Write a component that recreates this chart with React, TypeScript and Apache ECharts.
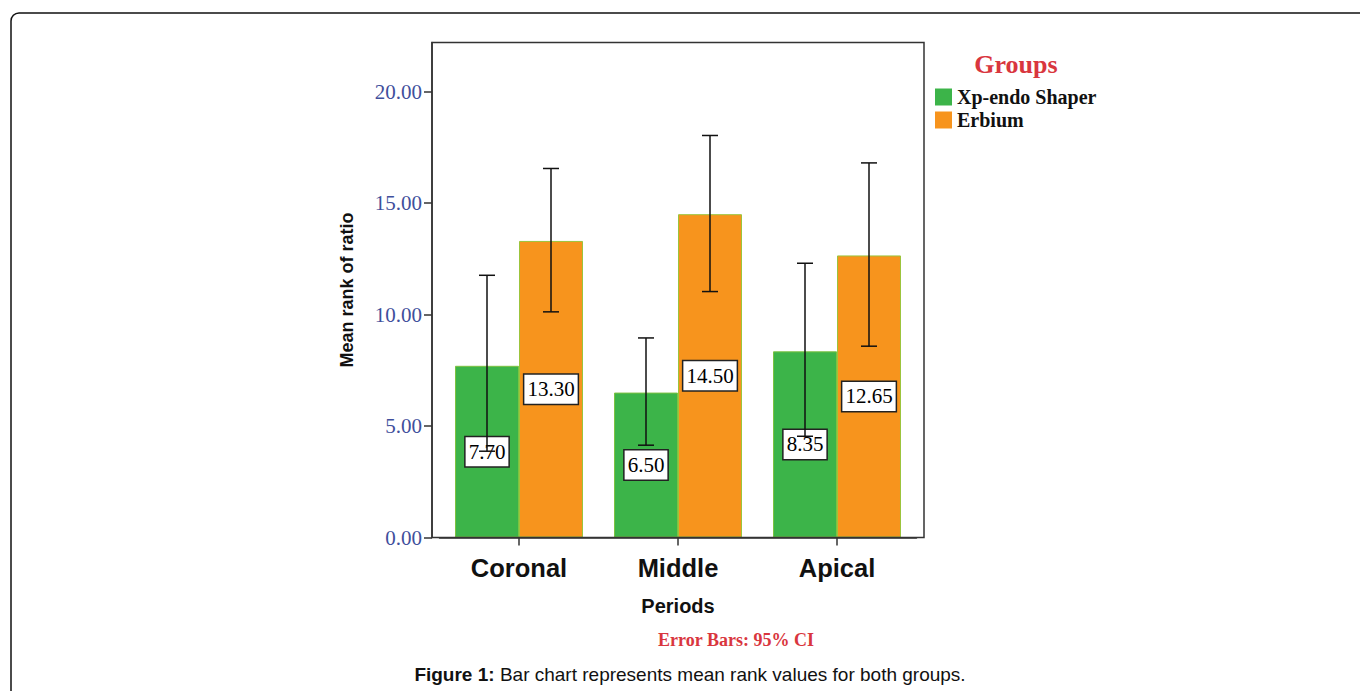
import React, { useEffect, useRef } from "react";
import * as echarts from "echarts";

const categories = ["Coronal", "Middle", "Apical"];
const groupNames = ["Xp-endo Shaper", "Erbium"];
const xpMeans = [7.7, 6.5, 8.35];
const erMeans = [13.3, 14.5, 12.65];
const xpLow = [3.87, 4.14, 4.54];
const xpHigh = [11.76, 8.95, 12.3];
const erLow = [10.12, 11.03, 8.58];
const erHigh = [16.55, 18.03, 16.8];
const yTicks = [0, 5, 10, 15, 20];

const GREEN = "#3cb449";
const ORANGE = "#f7941d";
const BAR_W = 64;

function errorSeries(name: string, lows: number[], highs: number[], side: number) {
  return {
    type: "custom",
    name: name + " CI",
    z: 5,
    silent: true,
    data: lows.map((l, i) => [i, l, highs[i]]),
    renderItem: (params: any, api: any) => {
      const i = api.value(0);
      const lo = api.coord([i, api.value(1)]);
      const hi = api.coord([i, api.value(2)]);
      const x = lo[0] + (side * BAR_W) / 2;
      const cap = 8;
      const style = { stroke: "#111", lineWidth: 1.5 };
      return {
        type: "group",
        children: [
          { type: "line", shape: { x1: x, y1: lo[1], x2: x, y2: hi[1] }, style },
          { type: "line", shape: { x1: x - cap, y1: hi[1], x2: x + cap, y2: hi[1] }, style },
          { type: "line", shape: { x1: x - cap, y1: lo[1], x2: x + cap, y2: lo[1] }, style },
        ],
      };
    },
  };
}

const barLabel = {
  show: true,
  position: "inside",
  formatter: (p: any) => Number(p.value).toFixed(2),
  fontFamily: "Liberation Serif",
  fontSize: 21,
  color: "#000",
  backgroundColor: "#fff",
  borderColor: "#222",
  borderWidth: 1.5,
  padding: [5, 3, 3, 3],
  lineHeight: 21,
};

export default function App() {
  const ref = useRef<HTMLDivElement>(null);
  useEffect(() => {
    if (!ref.current) return;
    const chart = echarts.init(ref.current, null, { renderer: "svg" });
    chart.setOption({
      animation: false,
      backgroundColor: "#fff",
      grid: { left: 439.5, top: 42.5, width: 477, height: 495 },
      legend: {
        left: 930,
        top: 82,
        orient: "vertical",
        itemWidth: 17,
        itemHeight: 17,
        itemGap: 3,
        icon: "rect",
        data: groupNames,
        textStyle: {
          fontFamily: "Liberation Serif",
          fontWeight: "bold",
          fontSize: 20,
          color: "#111",
          padding: [0, 0, 0, 0],
        },
        itemStyle: { borderWidth: 0 },
      },
      xAxis: {
        type: "category",
        data: categories,
        axisLine: { show: true, lineStyle: { color: "#333", width: 1.5 } },
        axisTick: { show: true, alignWithLabel: true, length: 8, lineStyle: { color: "#333", width: 1.5 } },
        axisLabel: {
          fontFamily: "Liberation Sans",
          fontWeight: "bold",
          fontSize: 25.5,
          color: "#111",
          margin: 17,
        },
        name: "Periods",
        nameLocation: "middle",
        nameGap: 58,
        nameTextStyle: {
          fontFamily: "Liberation Sans",
          fontWeight: "bold",
          fontSize: 20,
          color: "#111",
        },
      },
      yAxis: {
        type: "value",
        min: 0,
        max: 22.2,
        interval: 5,
        offset: 7.5,
        splitLine: { show: false },
        axisLine: { show: true, lineStyle: { color: "#333", width: 1.5 } },
        axisTick: { show: true, length: 8, customValues: yTicks, lineStyle: { color: "#333", width: 1.5 } },
        axisLabel: {
          customValues: yTicks,
          formatter: (v: number) => v.toFixed(2),
          fontFamily: "Liberation Serif",
          fontSize: 21,
          color: "#3f4f9c",
          margin: 10,
        },
        name: "Mean rank of ratio",
        nameLocation: "middle",
        nameGap: 76,
        nameTextStyle: {
          fontFamily: "Liberation Sans",
          fontWeight: "bold",
          fontSize: 18,
          color: "#111",
        },
      },
      series: [
        {
          type: "bar",
          name: groupNames[0],
          data: xpMeans,
          barWidth: BAR_W,
          barGap: "0%",
          itemStyle: { color: GREEN, borderColor: "#7cc242", borderWidth: 1 },
          label: barLabel,
        },
        {
          type: "bar",
          name: groupNames[1],
          data: erMeans,
          barWidth: BAR_W,
          barGap: "0%",
          itemStyle: { color: ORANGE, borderColor: "#9cc43c", borderWidth: 1 },
          label: barLabel,
        },
        errorSeries(groupNames[0], xpLow, xpHigh, -1),
        errorSeries(groupNames[1], erLow, erHigh, 1),
      ],
      graphic: [
        {
          type: "rect",
          z: 10,
          silent: true,
          shape: { x: 11, y: 13, width: 1400, height: 720, r: [8, 0, 0, 0] },
          style: { fill: "none", stroke: "#111", lineWidth: 1.5 },
        },
        {
          type: "rect",
          z: 10,
          silent: true,
          shape: { x: 432, y: 42.5, width: 492, height: 495 },
          style: { fill: "none", stroke: "#333", lineWidth: 1.5 },
        },
        {
          type: "text",
          x: 1016,
          y: 64,
          style: {
            text: "Groups",
            fill: "#d9363e",
            font: "bold 26px 'Liberation Serif'",
            textAlign: "center",
            textVerticalAlign: "middle",
          },
        },
        {
          type: "text",
          x: 736,
          y: 640,
          style: {
            text: "Error Bars: 95% CI",
            fill: "#d9363e",
            font: "bold 18px 'Liberation Serif'",
            textAlign: "center",
            textVerticalAlign: "middle",
          },
        },
        {
          type: "text",
          x: 690,
          y: 674,
          style: {
            text: "{b|Figure 1:} Bar chart represents mean rank values for both groups.",
            fill: "#111",
            font: "19px 'Liberation Sans'",
            textAlign: "center",
            textVerticalAlign: "middle",
            rich: {
              b: { fontWeight: "bold", fontSize: 19, fontFamily: "Liberation Sans", fill: "#111" },
            },
          },
        },
      ],
    });
    return () => chart.dispose();
  }, []);
  return (
    <div
      ref={ref}
      style={{ position: "absolute", left: 0, top: 0, width: 1360, height: 691, background: "#fff" }}
    />
  );
}
